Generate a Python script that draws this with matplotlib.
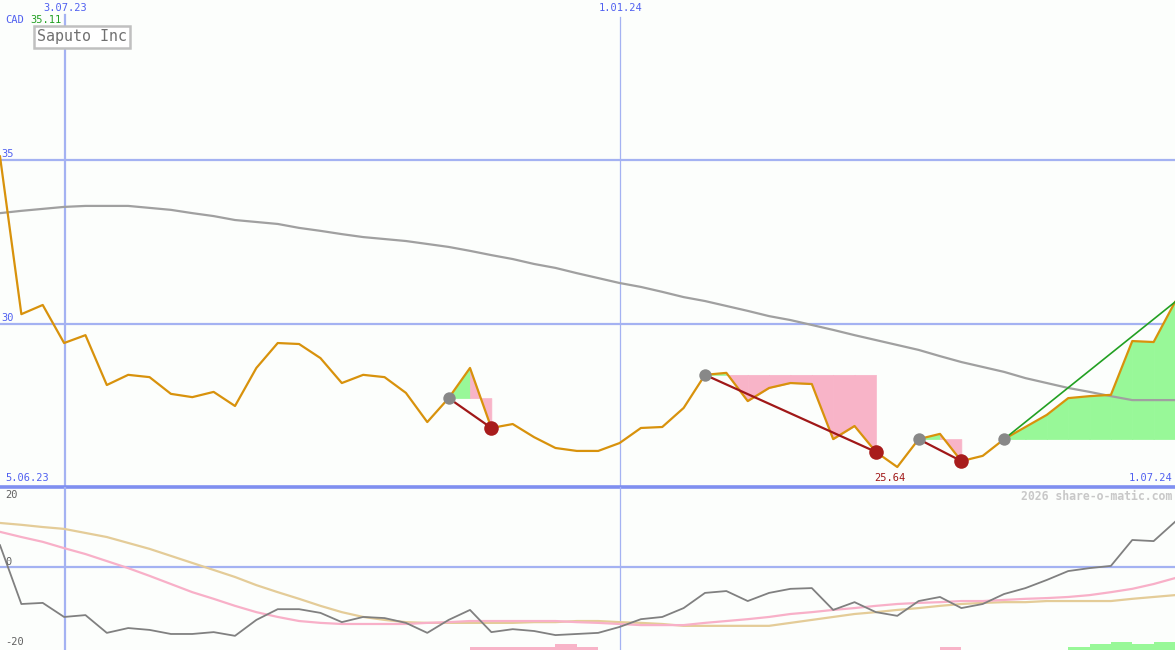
import numpy as np
import matplotlib
matplotlib.use("Agg")
from matplotlib import pyplot as plt

# weekly closes (CAD)
price = [35.11, 30.30, 30.58, 29.42, 29.66, 28.14, 28.45, 28.38, 27.87, 27.77,
         27.93, 27.50, 28.66, 29.42, 29.39, 28.96, 28.20, 28.45, 28.38, 27.90,
         27.01, 27.74, 28.66, 26.83, 26.95, 26.55, 26.22, 26.13, 26.13, 26.37,
         26.83, 26.86, 27.44, 28.45, 28.51, 27.65, 28.05, 28.20, 28.17, 26.49,
         26.89, 26.10, 25.64, 26.49, 26.65, 25.82, 25.98, 26.49, 26.86, 27.23,
         27.74, 27.80, 27.84, 29.48, 29.45, 30.67]

# long moving average (grey)
avg = [33.38, 33.45, 33.51, 33.57, 33.60, 33.60, 33.60, 33.54, 33.48, 33.38,
       33.29, 33.17, 33.11, 33.05, 32.93, 32.84, 32.74, 32.65, 32.59, 32.53,
       32.44, 32.35, 32.23, 32.10, 31.98, 31.83, 31.71, 31.55, 31.40, 31.25,
       31.13, 30.98, 30.82, 30.70, 30.55, 30.40, 30.24, 30.12, 29.97, 29.82,
       29.66, 29.51, 29.36, 29.21, 29.02, 28.84, 28.69, 28.54, 28.35, 28.20,
       28.05, 27.93, 27.80, 27.68, 27.68, 27.68]

# lower panel oscillator lines
osc = [5.9, -10.0, -9.7, -13.5, -13.0, -17.8, -16.5, -17.0, -18.1, -18.1,
       -17.6, -18.6, -14.3, -11.4, -11.4, -12.4, -14.9, -13.5, -13.8, -15.1,
       -17.8, -14.3, -11.6, -17.6, -16.8, -17.3, -18.4, -18.1, -17.8, -16.2,
       -14.1, -13.5, -11.1, -7.0, -6.5, -9.2, -7.0, -5.9, -5.7, -11.6,
       -9.5, -12.2, -13.2, -9.2, -8.1, -11.1, -10.0, -7.3, -5.7, -3.5,
       -1.1, -0.3, 0.3, 7.3, 7.0, 12.2]
osc_pink = [9.5, 8.1, 6.8, 5.1, 3.5, 1.6, -0.3, -2.4, -4.6, -6.8,
            -8.6, -10.5, -12.2, -13.5, -14.6, -15.1, -15.4, -15.4, -15.4, -15.4,
            -15.1, -14.9, -14.6, -14.6, -14.6, -14.6, -14.6, -14.9, -15.1, -15.4,
            -15.7, -15.7, -15.7, -15.1, -14.6, -14.1, -13.5, -12.7, -12.2, -11.6,
            -11.1, -10.5, -10.0, -9.7, -9.5, -9.2, -9.2, -8.9, -8.6, -8.4,
            -8.1, -7.6, -6.8, -5.9, -4.6, -3.0]
osc_tan = [11.9, 11.4, 10.8, 10.3, 9.2, 8.1, 6.5, 4.9, 3.0, 1.1,
           -0.8, -2.7, -4.9, -6.8, -8.6, -10.5, -12.2, -13.5, -14.3, -14.9,
           -15.1, -15.1, -15.1, -15.1, -15.1, -14.9, -14.9, -14.6, -14.6, -14.9,
           -15.1, -15.4, -15.9, -15.9, -15.9, -15.9, -15.9, -15.1, -14.3, -13.5,
           -12.7, -12.2, -11.6, -11.1, -10.5, -10.0, -9.7, -9.5, -9.5, -9.2,
           -9.2, -9.2, -9.2, -8.6, -8.1, -7.6]

# small signal bars at the bottom
pink_bar_idx = [22, 23, 24, 25, 26, 27, 44]
pink_bar_h = [0.8, 0.8, 0.8, 0.8, 1.6, 0.8, 0.8]
green_bar_idx = [50, 51, 52, 53, 54]
green_bar_h = [0.8, 1.6, 2.2, 1.6, 2.2]

# trade signals: entry index, exit index (None = still open)
entries = [21, 33, 43, 47]
exits = [23, 41, 45, None]

date_labels = ["3.07.23", "1.01.24"]
date_pos = [3.04, 29.03]
first_date, last_date = "5.06.23", "1.07.24"

BG = "#fcfefc"
GRID = "#a4b2f2"
BLUE = "#5060f0"
mono = "DejaVu Sans Mono"

W, H = 1175, 650
fig = plt.figure(figsize=(W / 100, H / 100), dpi=100, facecolor=BG)
split = 487
ax = fig.add_axes([0, (H - split) / H, 1, split / H])
ax2 = fig.add_axes([0, 0, 1, (H - split) / H])
for a in (ax, ax2):
    a.set_facecolor(BG)
    a.set_xlim(0, len(price) - 1)
    a.axis("off")

x = np.arange(len(price))
p = np.array(price)

ax.set_ylim(30 - 163 / 32.8, 35 + 160 / 32.8)
ax2.set_ylim(-22.43, 21.62)

# grid
for lvl in (30, 35):
    ax.axhline(lvl, color=GRID, lw=1.6, zorder=1)
    ax.text(0.05, lvl + 0.03, str(lvl), color=BLUE, fontsize=7.5, family=mono,
            va="bottom", ha="left")
ax.axhline(ax.get_ylim()[0], color="#7f8ff0", lw=2.6, zorder=6, clip_on=False)
ax2.axhline(0, color=GRID, lw=1.6, zorder=1)
for a in (ax, ax2):
    a.axvline(date_pos[0], color=GRID, lw=1.6, zorder=1,
              ymax=0.97 if a is ax else 1)
    a.axvline(date_pos[1], color=GRID, lw=0.9, zorder=1,
              ymax=0.965 if a is ax else 1)

# signal fills: green where the close ends above the entry, pink below
for e, xo in zip(entries, exits):
    end = xo if xo is not None else len(price) - 1
    lvl = p[e]
    for i in range(e, end):
        col = "#98f898" if p[i + 1] >= lvl else "#f8b4c8"
        ax.fill_between(x[i:i + 2], lvl, p[i:i + 2], facecolor=col,
                        edgecolor=col, lw=0.5, zorder=2)

ax.plot(x, avg, color="#a0a0a0", lw=1.6, zorder=3)
ax.plot(x, price, color="#d8920c", lw=1.6, zorder=4)

for e, xo in zip(entries, exits):
    if xo is None:
        ax.plot([e, len(price) - 1], [p[e], p[-1]], color="#22a022", lw=1.2, zorder=5)
    else:
        ax.plot([e, xo], [p[e], p[xo]], color="#a01818", lw=1.6, zorder=5)
        ax.scatter([xo], [p[xo]], s=110, color="#a81c1c", zorder=6, lw=0)
    ax.scatter([e], [p[e]], s=80, color="#888888", zorder=6, lw=0)

# labels
def ftext(px, py, s, **kw):
    fig.text(px / W, 1 - py / H, s, family=mono, **kw)

for lab, pos in zip(date_labels, date_pos):
    ftext(pos * W / (len(price) - 1), 8, lab, color=BLUE, fontsize=7.5,
          ha="center", va="center")
ftext(5, 20, "CAD", color=BLUE, fontsize=7.5, va="center")
ftext(30, 20, "%.2f" % price[0], color="#22a022", fontsize=7.5, va="center")
ftext(37, 37, "Saputo Inc", color="#707070", fontsize=10.8, va="center",
      bbox=dict(boxstyle="square,pad=0.22", fc="white", ec="#c0c0c0", lw=1.8))
ftext(5, 478, first_date, color=BLUE, fontsize=7.5, va="center")
ftext(1172, 478, last_date, color=BLUE, fontsize=7.5, va="center", ha="right")
imin = int(np.argmin(p))
ftext(imin * W / (len(price) - 1) - 7, 478, "%.2f" % p[imin], color="#a01818",
      fontsize=7.5, va="center", ha="center")
ftext(1172, 496, "2026 share-o-matic.com", color="#c8c8c8", fontsize=8.3,
      fontweight="bold", va="center", ha="right")

# lower panel
ax2.plot(x, osc_tan, color="#e4cc98", lw=1.6, zorder=3)
ax2.plot(x, osc_pink, color="#f8b0c8", lw=1.6, zorder=3)
ax2.plot(x, osc, color="#808080", lw=1.3, zorder=4)
bot = ax2.get_ylim()[0]
ax2.bar(pink_bar_idx, pink_bar_h, bottom=bot, width=1, align="edge",
        color="#f8b4c8", lw=0, zorder=2)
ax2.bar(green_bar_idx, green_bar_h, bottom=bot, width=1, align="edge",
        color="#98f898", lw=0, zorder=2)
for val, py in ((20, 495), (0, 562), (-20, 642)):
    ftext(5, py, str(val), color="#606060", fontsize=7.5, va="center")

fig.savefig("out.png", dpi=100, facecolor=BG)
